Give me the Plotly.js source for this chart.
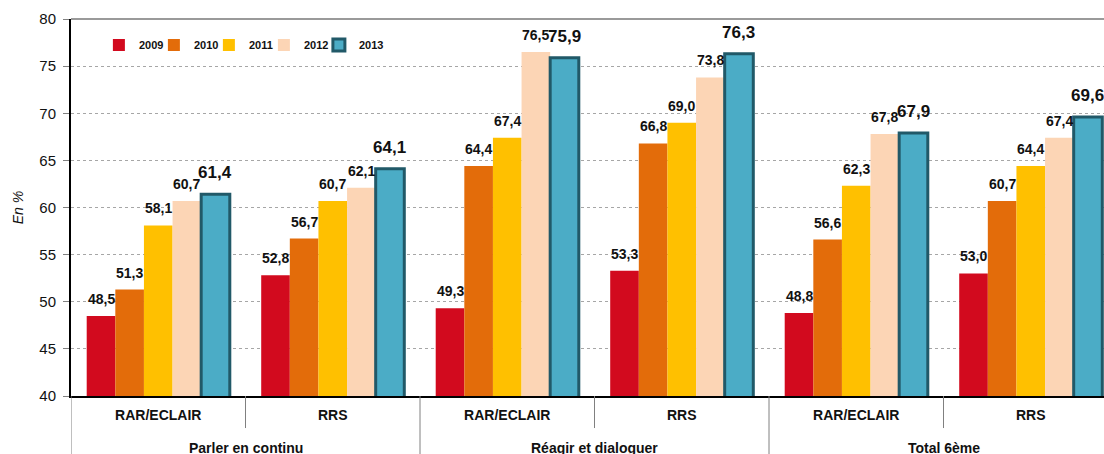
<!DOCTYPE html>
<html>
<head>
<meta charset="utf-8">
<script src="https://cdn.plot.ly/plotly-3.0.1.min.js"></script>
<style>
html, body { margin: 0; padding: 0; background: #ffffff; }
#chart { width: 1104px; height: 454px; }
</style>
</head>
<body>
<div id="chart"></div>
<script>
// ---- Data ----
const mainGroups = ["Parler en continu", "Réagir et dialoguer", "Total 6ème"];
const subGroups = ["RAR/ECLAIR", "RRS", "RAR/ECLAIR", "RRS", "RAR/ECLAIR", "RRS"];
const years = ["2009", "2010", "2011", "2012", "2013"];
const v2009 = [48.5, 52.8, 49.3, 53.3, 48.8, 53.0];
const v2010 = [51.3, 56.7, 64.4, 66.8, 56.6, 60.7];
const v2011 = [58.1, 60.7, 67.4, 69.0, 62.3, 64.4];
const v2012 = [60.7, 62.1, 76.5, 73.8, 67.8, 67.4];
const v2013 = [61.4, 64.1, 75.9, 76.3, 67.9, 69.6];
const yTicks = [40, 45, 50, 55, 60, 65, 70, 75, 80];

// ---- Styles ----
const seriesValues = [v2009, v2010, v2011, v2012, v2013];
const colors = ["#D20A1E", "#E36C0A", "#FFC000", "#FCD5B5", "#4BACC6"];
const FONT = "'Liberation Sans', Arial, sans-serif";
const bargap = 0.18;
const nSeries = years.length;
const bw = (1 - bargap) / nSeries;
const xIdx = subGroups.map((_, i) => i);
const fmt = v => v.toFixed(1).replace(".", ",");

const traces = years.map((yr, j) => {
  const last = j === nSeries - 1;
  const t = {
    type: "bar",
    name: yr,
    x: xIdx,
    y: seriesValues[j],
    marker: {
      color: colors[j],
      line: last ? { color: "#215968", width: 3 } : { width: 0 }
    },
    hoverinfo: "skip"
  };
  if (last) t.legendwidth = 30;
  return t;
});

// data labels
const annotations = [];
years.forEach((yr, j) => {
  const last = j === nSeries - 1;
  seriesValues[j].forEach((v, i) => {
    annotations.push({
      x: i + (j - (nSeries - 1) / 2) * bw,
      y: v,
      xref: "x", yref: "y",
      text: fmt(v),
      showarrow: false,
      xanchor: "center",
      yanchor: "bottom",
      yshift: last ? 10 : 7,
      font: { family: FONT, size: last ? 17 : 14, color: "#111111", weight: "bold" }
    });
  });
});

// main group labels
const perGroup = subGroups.length / mainGroups.length;
mainGroups.forEach((g, k) => {
  annotations.push({
    x: k * perGroup + (perGroup - 1) / 2,
    y: -0.138,
    xref: "x", yref: "paper",
    text: g,
    showarrow: false,
    xanchor: "center",
    yanchor: "middle",
    font: { family: FONT, size: 14, color: "#111111", weight: "bold" }
  });
});

// divider lines
const shapes = [];
for (let b = 0; b <= subGroups.length; b++) {
  const isMain = b % perGroup === 0;
  shapes.push({
    type: "line", xref: "x", yref: "paper",
    x0: b - 0.5, x1: b - 0.5,
    y0: 0, y1: isMain ? -0.17 : -0.085,
    line: { color: "#808080", width: 1 }
  });
}
// top border
shapes.push({
  type: "line", xref: "paper", yref: "paper",
  x0: 0, x1: 1, y0: 1, y1: 1,
  line: { color: "#9a9a9a", width: 2 }
});

const plotW = 1104 - 71;
const groupPx = 174.5;

const layout = {
  width: 1104,
  height: 454,
  margin: { l: 71, r: 0, t: 19, b: 58, pad: 0 },
  paper_bgcolor: "#ffffff",
  plot_bgcolor: "#ffffff",
  barmode: "group",
  bargap: bargap,
  bargroupgap: 0,
  font: { family: FONT, color: "#111111" },
  showlegend: true,
  legend: {
    orientation: "h",
    x: 0.027, xanchor: "left",
    y: 0.931, yanchor: "middle",
    bgcolor: "rgba(0,0,0,0)",
    entrywidth: 10,
    font: { family: FONT, size: 11, color: "#111111", weight: "bold" },
    traceorder: "normal"
  },
  xaxis: {
    type: "linear",
    range: [-0.5, -0.5 + plotW / groupPx],
    tickmode: "array",
    tickvals: xIdx,
    ticktext: subGroups,
    ticks: "",
    ticklabelstandoff: 6,
    showgrid: false,
    zeroline: false,
    showline: true,
    linecolor: "#000000",
    linewidth: 1.5,
    tickfont: { family: FONT, size: 14, color: "#111111", weight: "bold" },
    fixedrange: true
  },
  yaxis: {
    range: [40, 80],
    tickmode: "array",
    tickvals: yTicks,
    ticks: "outside",
    ticklen: 6,
    tickcolor: "#808080",
    ticklabelstandoff: 4,
    tickfont: { family: FONT, size: 15, color: "#111111" },
    showgrid: true,
    gridcolor: "#a6a6a6",
    griddash: "dot",
    gridwidth: 1,
    zeroline: false,
    showline: true,
    linecolor: "#000000",
    linewidth: 2,
    title: { text: "En %", font: { family: FONT, size: 14, color: "#111111", style: "italic" }, standoff: 12 },
    fixedrange: true
  },
  annotations: annotations,
  shapes: shapes
};

Plotly.newPlot("chart", traces, layout, { displayModeBar: false, staticPlot: true });
</script>
</body>
</html>
